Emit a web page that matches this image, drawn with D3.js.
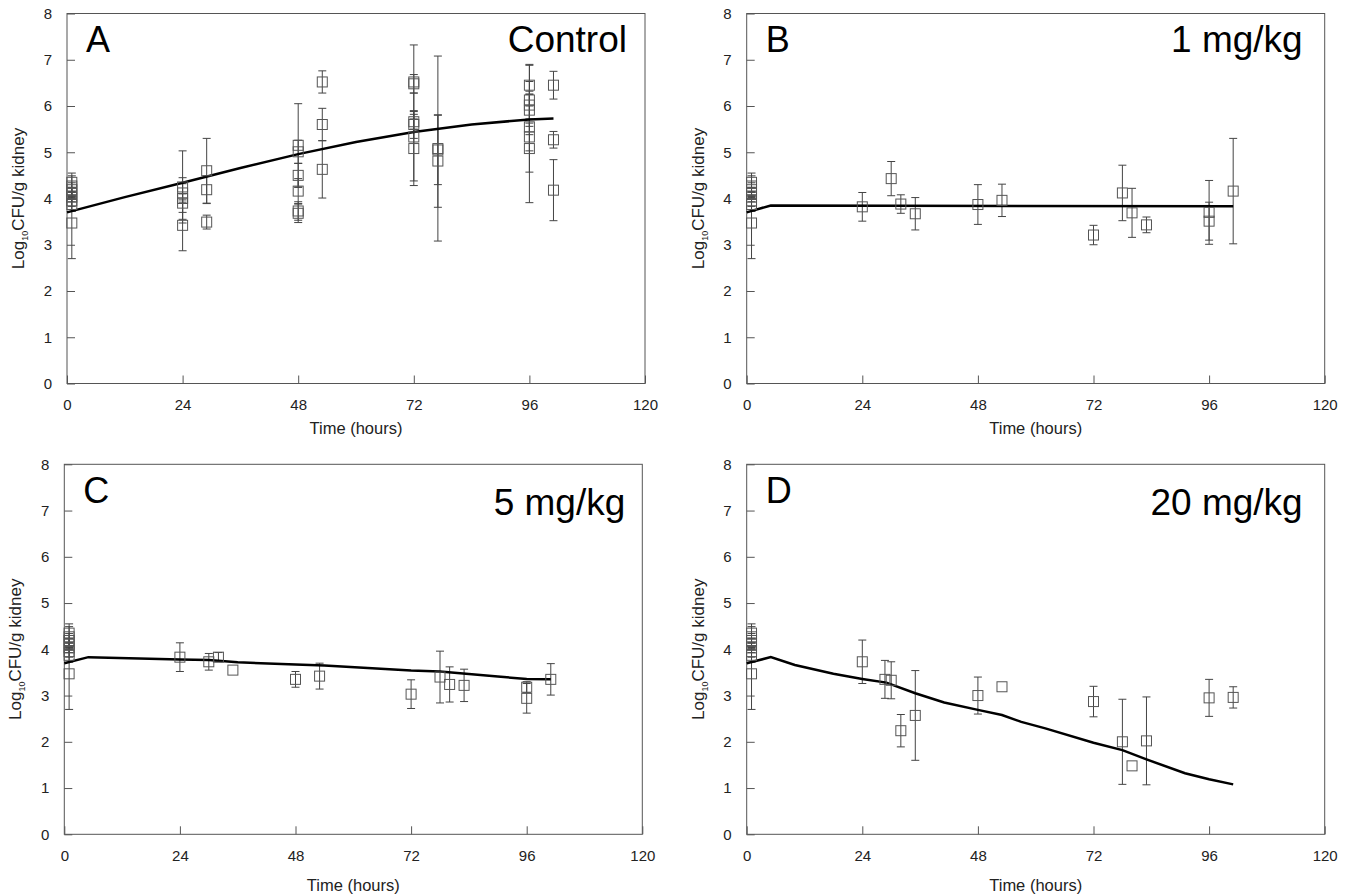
<!DOCTYPE html>
<html>
<head>
<meta charset="utf-8">
<script src="https://cdn.jsdelivr.net/npm/d3@7"></script>
<style>
body { margin: 0; background: #fff; }
svg { font-family: "Liberation Sans", Arial, sans-serif; }
</style>
</head>
<body>
<svg id="chart" width="1349" height="895"></svg>
<script>
var xTicks = [0, 24, 48, 72, 96, 120];
var yTicks = [0, 1, 2, 3, 4, 5, 6, 7, 8];

// time-zero mice, plotted in every panel
var baseTime = [1, 1, 1, 1, 1, 1, 1, 1];
var baseMean = [4.35, 4.27, 4.19, 4.11, 4.03, 3.95, 3.87, 3.47];
var baseSd   = [0.2, 0.22, 0.15, 0.12, 0.1, 0.12, 0.15, 0.77];

// A - control
var ctrlTime = [24, 24, 24, 24, 24, 29, 29, 29, 48, 48, 48, 48, 48, 48, 53, 53, 53,
                72, 72, 72, 72, 72, 72, 77, 77, 77, 96, 96, 96, 96, 96, 96, 96, 101, 101, 101];
var ctrlMean = [4.25, 4.12, 4.0, 3.9, 3.42, 4.6, 4.19, 3.49, 5.15, 5.01, 4.5, 4.16, 3.73, 3.68, 6.52, 5.6, 4.63,
                6.52, 6.48, 5.66, 5.6, 5.33, 5.08, 5.08, 5.05, 4.81, 6.45, 6.13, 6.02, 5.91, 5.55, 5.33, 5.08, 6.45, 5.27, 4.18];
var ctrlSd   = [0.78, 0.2, 0.45, 0.2, 0.55, 0.7, 0.3, 0.15, 0.9, 0.25, 0.26, 0.27, 0.2, 0.2, 0.24, 0.35, 0.62,
                0.8, 0.2, 0.16, 0.3, 0.95, 0.8, 2.0, 0.75, 1.0, 0.45, 0.75, 0.3, 0.35, 0.98, 0.3, 1.17, 0.3, 0.18, 0.66];
var ctrlFitTime = [0, 12, 24, 36, 48, 60, 72, 84, 96, 101];
var ctrlFit     = [3.7, 4.03, 4.34, 4.66, 4.96, 5.22, 5.44, 5.6, 5.71, 5.73];

// B - 1 mg/kg
var d1Time = [24, 30, 32, 35, 48, 53, 72, 78, 80, 83, 96, 96, 101];
var d1Mean = [3.82, 4.43, 3.88, 3.67, 3.87, 3.96, 3.21, 4.12, 3.69, 3.43, 3.7, 3.51, 4.16];
var d1Sd   = [0.31, 0.37, 0.2, 0.35, 0.43, 0.35, 0.21, 0.6, 0.53, 0.17, 0.69, 0.41, 1.14];
var d1FitTime = [0, 5, 101];
var d1Fit     = [3.7, 3.85, 3.83];

// C - 5 mg/kg
var d5Time = [24, 30, 32, 35, 48, 53, 72, 78, 80, 83, 96, 96, 101];
var d5Mean = [3.83, 3.73, 3.83, 3.55, 3.35, 3.42, 3.03, 3.4, 3.24, 3.22, 3.18, 2.94, 3.35];
var d5Sd   = [0.31, 0.18, 0.1, 0, 0.17, 0.28, 0.31, 0.56, 0.38, 0.35, 0.12, 0.32, 0.34];
var d5FitTime = [0, 5, 24, 30, 36, 48, 54, 72, 78, 90, 96, 101];
var d5Fit     = [3.7, 3.83, 3.78, 3.77, 3.72, 3.67, 3.65, 3.54, 3.52, 3.41, 3.36, 3.35];

// D - 20 mg/kg
var d20Time = [24, 28.7, 30, 32, 35, 48, 53, 72, 78, 80, 83, 96, 101];
var d20Mean = [3.73, 3.35, 3.33, 2.24, 2.57, 3.0, 3.19, 2.87, 2.0, 1.48, 2.02, 2.95, 2.96];
var d20Sd   = [0.47, 0.41, 0.4, 0.35, 0.97, 0.4, 0, 0.33, 0.92, 0, 0.95, 0.4, 0.23];
var d20FitTime = [0, 5, 10, 18, 24, 29, 35, 41, 48, 53, 57, 62, 72, 78, 83, 91, 96, 101];
var d20Fit     = [3.7, 3.83, 3.66, 3.47, 3.36, 3.28, 3.05, 2.85, 2.69, 2.58, 2.43, 2.29, 1.98, 1.82, 1.62, 1.32, 1.19, 1.08];

var panels = [
    {letter: "A", label: "Control", time: ctrlTime, mean: ctrlMean, sd: ctrlSd, fitTime: ctrlFitTime, fit: ctrlFit,
     left: 67, top: 13.5, inset: 18, labelY: 38, titleY: 50.5},
    {letter: "B", label: "1 mg/kg", time: d1Time, mean: d1Mean, sd: d1Sd, fitTime: d1FitTime, fit: d1Fit,
     left: 746.7, top: 13.5, inset: 22, labelY: 38, titleY: 50.5},
    {letter: "C", label: "5 mg/kg", time: d5Time, mean: d5Mean, sd: d5Sd, fitTime: d5FitTime, fit: d5Fit,
     left: 64.3, top: 464.3, inset: 17, labelY: 51, titleY: 56.5},
    {letter: "D", label: "20 mg/kg", time: d20Time, mean: d20Mean, sd: d20Sd, fitTime: d20FitTime, fit: d20Fit,
     left: 746.7, top: 464.3, inset: 22, labelY: 51, titleY: 56.5}
];

var width = 578, height = 370;
var svg = d3.select("#chart");

var x = d3.scaleLinear().domain([0, 120]).range([0, width]);
var y = d3.scaleLinear().domain([0, 8]).range([height, 0]);

panels.forEach(function(p) {
    var g = svg.append("g")
        .attr("transform", "translate(" + p.left + "," + p.top + ")");

    var xAxis = d3.axisBottom(x).tickValues(xTicks).tickSizeInner(-8).tickSizeOuter(0).tickPadding(16);
    var yAxis = d3.axisLeft(y).tickValues(yTicks).tickSizeInner(-8).tickSizeOuter(0).tickPadding(15);

    var gx = g.append("g").attr("transform", "translate(0," + height + ")").call(xAxis);
    var gy = g.append("g").call(yAxis);
    [gx, gy].forEach(function(a) {
        a.select(".domain").remove();
        a.selectAll("line").attr("stroke", "#555");
        a.selectAll("text").attr("fill", "#222").style("font-size", "15px");
    });

    g.append("rect")
        .attr("width", width)
        .attr("height", height)
        .attr("fill", "none")
        .attr("stroke", "#555")
        .attr("stroke-width", 1);

    // points = baseline mice + this group's mice
    var pts = [];
    baseTime.forEach(function(t, i) { pts.push({t: t, m: baseMean[i], s: baseSd[i]}); });
    p.time.forEach(function(t, i) { pts.push({t: t, m: p.mean[i], s: p.sd[i]}); });

    var bars = g.append("g").attr("stroke", "#444").attr("stroke-width", 1);
    pts.filter(function(d) { return d.s > 0; }).forEach(function(d) {
        var cx = x(d.t);
        bars.append("line").attr("x1", cx).attr("x2", cx).attr("y1", y(d.m + d.s)).attr("y2", y(d.m - d.s));
        bars.append("line").attr("x1", cx - 4).attr("x2", cx + 4).attr("y1", y(d.m + d.s)).attr("y2", y(d.m + d.s));
        bars.append("line").attr("x1", cx - 4).attr("x2", cx + 4).attr("y1", y(d.m - d.s)).attr("y2", y(d.m - d.s));
    });

    var line = d3.line()
        .x(function(d) { return x(d[0]); })
        .y(function(d) { return y(d[1]); });
    g.append("path")
        .datum(p.fitTime.map(function(t, i) { return [t, p.fit[i]]; }))
        .attr("d", line)
        .attr("fill", "none")
        .attr("stroke", "#000")
        .attr("stroke-width", 2.5);

    g.selectAll("rect.pt")
        .data(pts)
        .enter()
        .append("rect")
        .attr("class", "pt")
        .attr("x", function(d) { return x(d.t) - 5; })
        .attr("y", function(d) { return y(d.m) - 5; })
        .attr("width", 10)
        .attr("height", 10)
        .attr("fill", "none")
        .attr("stroke", "#555")
        .attr("stroke-width", 1);

    g.append("text")
        .text(p.letter)
        .attr("x", 19)
        .attr("y", 38.5)
        .style("font-size", "36px")
        .attr("fill", "#000");

    g.append("text")
        .text(p.label)
        .attr("x", width - p.inset)
        .attr("y", p.labelY)
        .attr("text-anchor", "end")
        .style("font-size", "37px")
        .attr("fill", "#000");

    g.append("text")
        .text("Time (hours)")
        .attr("x", width / 2)
        .attr("y", height + p.titleY)
        .attr("text-anchor", "middle")
        .style("font-size", "16.5px")
        .attr("fill", "#222");

    var yt = g.append("text")
        .attr("transform", "translate(-43," + (height / 2) + ") rotate(-90)")
        .attr("text-anchor", "middle")
        .style("font-size", "17px")
        .attr("fill", "#222");
    yt.append("tspan").text("Log");
    yt.append("tspan").text("10").style("font-size", "9px").attr("dy", 4);
    yt.append("tspan").text("CFU/g kidney").attr("dy", -4);
});
</script>
</body>
</html>
